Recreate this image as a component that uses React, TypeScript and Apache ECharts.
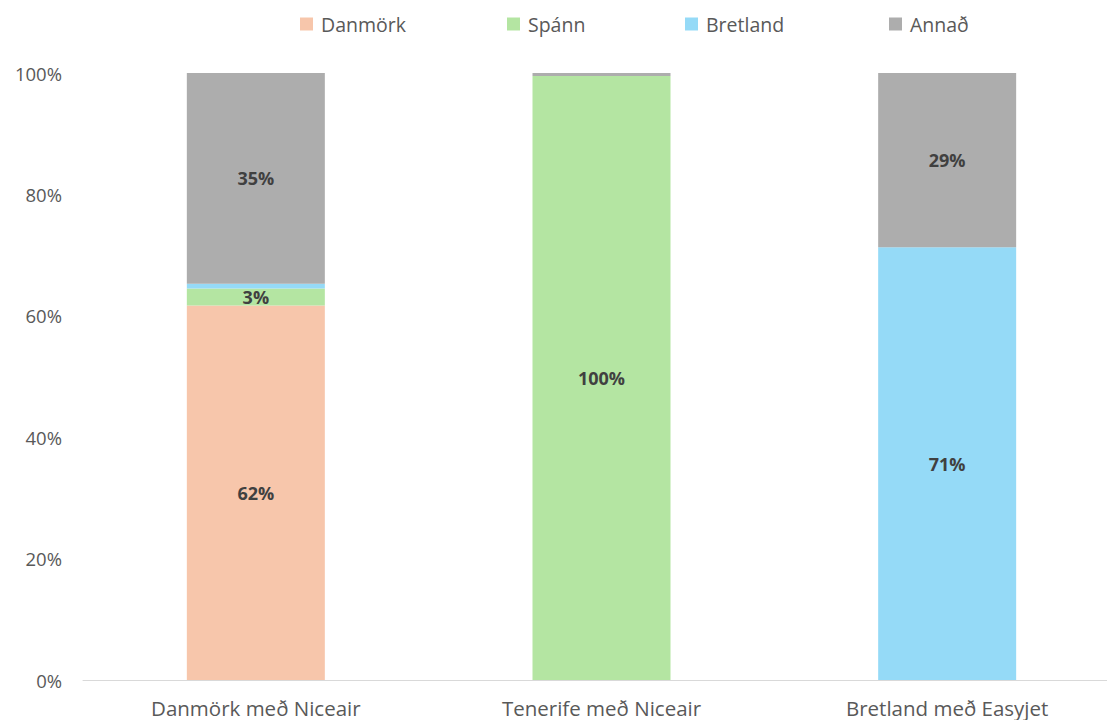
import React, { useEffect, useRef } from "react";
import * as echarts from "echarts";

const categories = ["Danmörk með Niceair", "Tenerife með Niceair", "Bretland með Easyjet"];
const seriesNames = ["Danmörk", "Spánn", "Bretland", "Annað"];
const danmork = [61.7, 0, 0];
const spann = [2.8, 99.5, 0];
const bretland = [0.8, 0, 71.3];
const annad = [34.7, 0.5, 28.7];
const yTicks = [0, 20, 40, 60, 80, 100];
const colors = ["#F7C6AB", "#B4E5A2", "#95DAF7", "#ADADAD"];
const legendLefts = [300, 507, 685, 889];

export default function App() {
  const ref = useRef<HTMLDivElement>(null);
  useEffect(() => {
    if (!ref.current) return;
    const chart = echarts.init(ref.current, undefined, { renderer: "svg" });
    const values = [danmork, spann, bretland, annad];
    chart.setOption({
      animation: false,
      textStyle: { fontFamily: "Open Sans" },
      legend: seriesNames.map((name, i) => ({
        data: [name],
        left: legendLefts[i],
        top: 14,
        padding: 0,
        itemWidth: 13,
        itemHeight: 13,
        itemGap: 0,
        icon: "rect",
        textStyle: { fontSize: 19.5, color: "#595959", fontFamily: "Open Sans", padding: [0, 0, 0, 3] },
      })),
      grid: { left: 83, top: 73, bottom: 40, right: 0 },
      xAxis: {
        type: "category",
        data: categories,
        axisLine: { lineStyle: { color: "#D9D9D9", width: 1 } },
        axisTick: { show: false },
        axisLabel: { color: "#595959", fontSize: 20.5, margin: 17, fontFamily: "Open Sans" },
      },
      yAxis: {
        type: "value",
        min: 0,
        max: 100,
        interval: 20,
        splitLine: { show: false },
        axisLine: { show: false },
        axisTick: { show: false },
        axisLabel: {
          color: "#595959",
          fontSize: 18.5,
          margin: 21,
          formatter: (v: number) => (yTicks.includes(v) ? v + "%" : ""),
        },
      },
      series: seriesNames.map((name, i) => ({
        name,
        type: "bar",
        stack: "total",
        barWidth: 138,
        itemStyle: { color: colors[i] },
        data: values[i],
        label: {
          show: true,
          position: "inside",
          color: "#404040",
          fontWeight: "bold",
          fontSize: 18,
          fontFamily: "Open Sans",
          formatter: (p: any) => (p.value >= 2 ? Math.round(p.value) + "%" : ""),
        },
      })),
    });
    return () => chart.dispose();
  }, []);
  return (
    <div style={{ position: "fixed", left: 0, top: 0, width: 1107, height: 720, overflow: "hidden", background: "#fff" }}>
      <div ref={ref} style={{ width: 1120, height: 720 }} />
    </div>
  );
}
